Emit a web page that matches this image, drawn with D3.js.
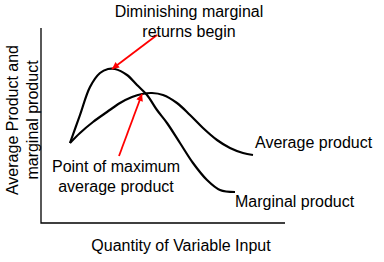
<!DOCTYPE html>
<html>
<head>
<meta charset="utf-8">
<script src="https://cdn.jsdelivr.net/npm/d3@7"></script>
<style>
  body { margin: 0; background: #fff; }
  text { font-family: "Liberation Sans", Arial, sans-serif; font-size: 16px; fill: #000; }
</style>
</head>
<body>
<div id="container"></div>
<script>
// curve values (x = input, y = product), in plot units
const mpX = [29, 39, 49, 59, 67, 74, 86, 96, 106, 116, 126, 139, 152, 166, 179, 194];
const mpY = [80, 108, 136, 150, 154, 154, 148, 138, 128, 113, 100, 80, 60, 43, 33, 31];
const apX = [29, 39, 52, 66, 79, 91, 101, 111, 122, 136, 149, 162, 176, 189, 202, 212];
const apY = [80, 90, 101, 111, 120, 126, 129, 130, 128, 120, 108, 95, 83, 75, 70, 68];

// annotation arrows: [fromX, fromY, toX, toY]
const arrows = [
    [116, 188, 71, 154],
    [78, 67, 101, 129]
];

const xLabel = 'Quantity of Variable Input';
const yLabel = ['Average Product and', 'marginal product'];
const topNote = ['Diminishing marginal', 'returns begin'];
const midNote = ['Point of maximum', 'average product'];
const apLabel = 'Average product';
const mpLabel = 'Marginal product';

const width = 384, height = 262;
const x0 = 41, y0 = 223;

const svg = d3.select("#container")
    .append("svg")
    .attr("width", width)
    .attr("height", height);

const xScale = d3.scaleLinear().domain([0, 244]).range([x0, 285]);
const yScale = d3.scaleLinear().domain([0, 195]).range([y0, 28]);

// axes without ticks
svg.append("path")
    .attr("d", `M${xScale(0)},${yScale(195)}V${yScale(0)}H${xScale(244)}`)
    .attr("fill", "none")
    .attr("stroke", "#000")
    .attr("stroke-width", 1.3);

const line = d3.line()
    .x(d => xScale(d[0]))
    .y(d => yScale(d[1]))
    .curve(d3.curveCatmullRom);

svg.append("path")
    .datum(d3.zip(mpX, mpY))
    .attr("d", line)
    .attr("fill", "none")
    .attr("stroke", "#000")
    .attr("stroke-width", 2.2);

svg.append("path")
    .datum(d3.zip(apX, apY))
    .attr("d", line)
    .attr("fill", "none")
    .attr("stroke", "#000")
    .attr("stroke-width", 2.2);

svg.append("defs").append("marker")
    .attr("id", "head")
    .attr("viewBox", "0 0 10 10")
    .attr("refX", 10)
    .attr("refY", 5)
    .attr("markerWidth", 9)
    .attr("markerHeight", 7)
    .attr("markerUnits", "userSpaceOnUse")
    .attr("orient", "auto")
    .append("path")
    .attr("d", "M0,0L10,5L0,10Z")
    .attr("fill", "#ff0000");

svg.selectAll(".arrow")
    .data(arrows)
    .enter()
    .append("line")
    .attr("class", "arrow")
    .attr("x1", d => xScale(d[0]))
    .attr("y1", d => yScale(d[1]))
    .attr("x2", d => xScale(d[2]))
    .attr("y2", d => yScale(d[3]))
    .attr("stroke", "#ff0000")
    .attr("stroke-width", 1.8)
    .attr("marker-end", "url(#head)");

// labels
svg.selectAll(".top-note")
    .data(topNote)
    .enter()
    .append("text")
    .attr("x", 189)
    .attr("y", (d, i) => 17 + i * 19.5)
    .attr("text-anchor", "middle")
    .text(d => d);

svg.selectAll(".mid-note")
    .data(midNote)
    .enter()
    .append("text")
    .attr("x", 116)
    .attr("y", (d, i) => 172 + i * 20)
    .attr("text-anchor", "middle")
    .text(d => d);

svg.append("text")
    .attr("x", 255)
    .attr("y", 148)
    .text(apLabel);

svg.append("text")
    .attr("x", 235)
    .attr("y", 207)
    .text(mpLabel);

svg.append("text")
    .attr("x", 181)
    .attr("y", 251)
    .attr("text-anchor", "middle")
    .text(xLabel);

svg.selectAll(".y-label")
    .data(yLabel)
    .enter()
    .append("text")
    .attr("text-anchor", "middle")
    .attr("transform", (d, i) => `translate(${18 + i * 19.5},120) rotate(-90)`)
    .text(d => d);
</script>
</body>
</html>
